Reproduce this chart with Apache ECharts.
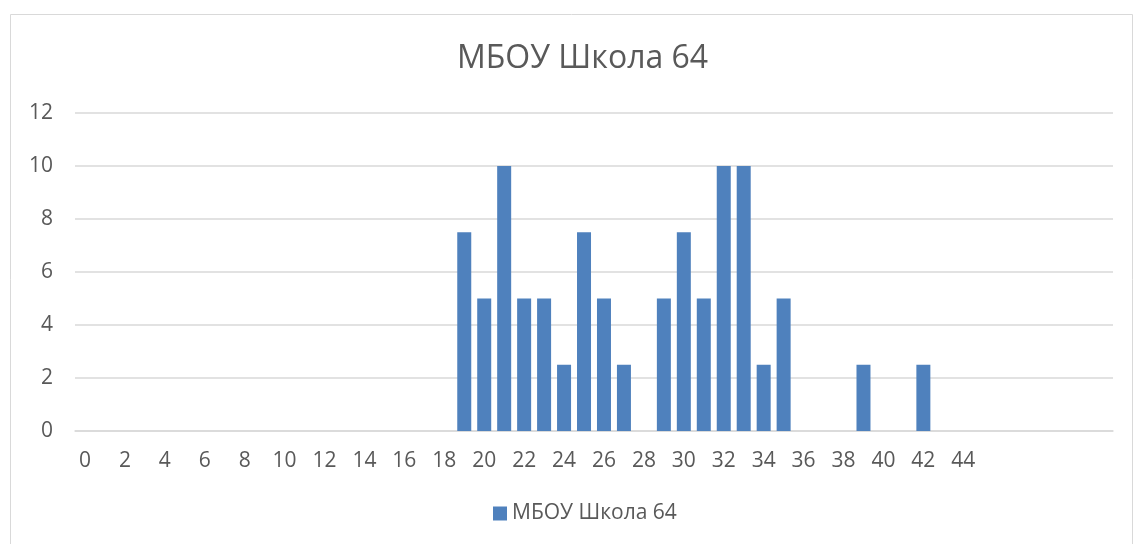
<!DOCTYPE html>
<html><head><meta charset="utf-8">
<script src="https://cdn.jsdelivr.net/npm/echarts@6/dist/echarts.min.js"></script>
<style>html,body{margin:0;padding:0;background:#fff}#c{width:1137px;height:544px}</style>
</head><body><div id="c"></div>
<script>
const titleText = 'МБОУ Школа 64';
const seriesName = 'МБОУ Школа 64';
const categories = ['0','1','2','3','4','5','6','7','8','9','10','11','12','13','14','15','16','17','18','19','20','21','22','23','24','25','26','27','28','29','30','31','32','33','34','35','36','37','38','39','40','41','42','43','44','45','','','','','',''];
const values = [0,0,0,0,0,0,0,0,0,0,0,0,0,0,0,0,0,0,0,7.5,5,10,5,5,2.5,7.5,5,2.5,0,5,7.5,5,10,10,2.5,5,0,0,0,2.5,0,0,2.5,0,0,0,0,0,0,0,0,0];
const yTicks = [0,2,4,6,8,10,12];

const chart = echarts.init(document.getElementById('c'));
const font = 'Open Sans, Liberation Sans, sans-serif';
chart.setOption({
  animation:false,
  graphic:[{type:'rect',shape:{x:10.5,y:14.5,width:1122,height:540},style:{fill:'none',stroke:'#d9d9d9',lineWidth:1},silent:true}],
  title:{text:titleText,left:452,top:38,textStyle:{fontFamily:font,fontSize:32,fontWeight:'normal',color:'#595959'}},
  legend:{bottom:15,left:488,itemWidth:14,itemHeight:14,itemGap:6,icon:'rect',textStyle:{fontFamily:font,fontSize:21,color:'#595959'},data:[seriesName]},
  grid:{left:75,right:24,top:113,bottom:113,containLabel:false},
  xAxis:{type:'category',data:categories,
    axisLine:{show:true,lineStyle:{color:'#d9d9d9',width:1.5}},axisTick:{show:false},
    axisLabel:{interval:1,color:'#595959',fontFamily:font,fontSize:21,margin:20}},
  yAxis:{type:'value',min:yTicks[0],max:yTicks[yTicks.length-1],interval:2,
    axisLine:{show:false},axisTick:{show:false},
    splitLine:{lineStyle:{color:'#d9d9d9',width:1.5}},
    axisLabel:{color:'#595959',fontFamily:font,fontSize:21,margin:22}},
  series:[{name:seriesName,type:'bar',data:values,barWidth:14,
    itemStyle:{color:'#4f81bd'}}]
});
</script></body></html>
